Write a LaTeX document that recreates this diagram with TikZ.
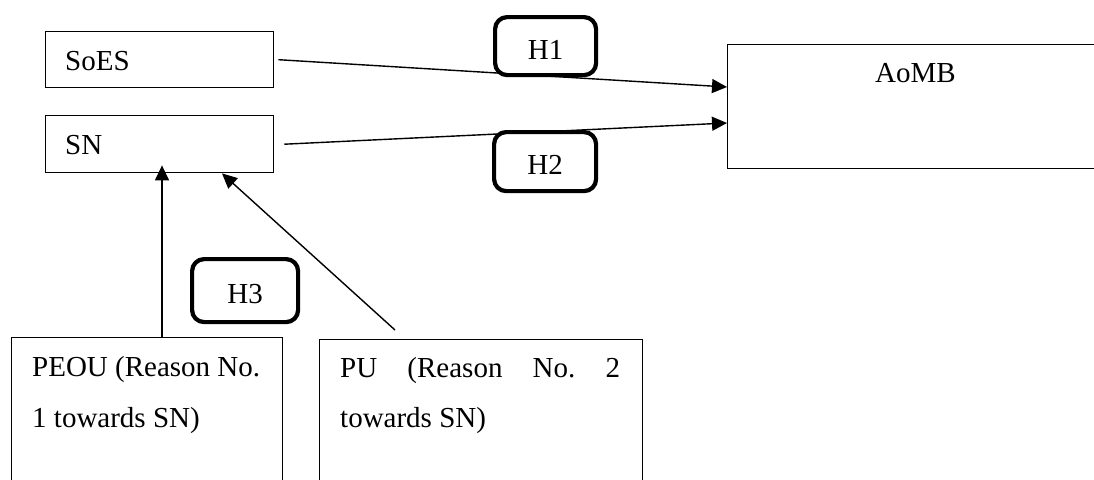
\documentclass[tikz,border=0pt]{standalone}
\usepackage{fontspec}
\setmainfont{Liberation Serif}
\usetikzlibrary{arrows.meta,calc}
\begin{document}
\frenchspacing
\begin{tikzpicture}[x=1pt,y=-1pt,
  box/.style={draw,line width=1.4pt,inner sep=0pt,anchor=north west},
  hyp/.style={draw,line width=4.2pt,rounded corners=12pt,inner sep=0pt,anchor=north west,fill=white,
    text height=26pt,text depth=0pt},
  lbl/.style={anchor=base west,inner sep=0pt},
  link/.style={line width=1.4pt,-{Triangle[length=15pt,width=14pt]}},
  font=\fontsize{29pt}{35pt}\selectfont]
\useasboundingbox (0,0) rectangle (1094,479);
\clip (0,0) rectangle (1094,479);

% construct boxes
\node[box,minimum width=228pt,minimum height=56pt] (soes) at (45,31) {};
\node[box,minimum width=228pt,minimum height=57pt] (sn) at (45,115) {};
\node[box,minimum width=400pt,minimum height=124pt] (aomb) at (727,44) {};
\node[box,minimum width=271pt,minimum height=170pt] (peou) at (11,337) {};
\node[box,minimum width=323pt,minimum height=170pt] (pu) at (319,339) {};

% box texts
\node[lbl] (soesT) at (65,70) {SoES};
\node[lbl] (snT) at (65,154) {SN};
\node[lbl] (aombT) at (875,82) {AoMB};
\node[lbl] (peouA) at (32,376) {PEOU (Reason No.};
\node[lbl] (peouB) at (32,427) {1 towards SN)};
\node[lbl] (puA) at (340,377) {\makebox[280pt][s]{PU (Reason No. 2}};
\node[lbl] (puB) at (340,427) {towards SN)};

% relationships
\draw[link] ($(soes.east)+(4,0)$) -- ($(aomb.north west)+(0,43)$);
\draw[link] ($(sn.east)+(10,0)$) -- ($(aomb.north west)+(0,79)$);
\draw[link] ($(peou.north west)+(151,0)$) -- ($(sn.south west)+(117,-8)$);
\draw[link] ($(pu.north west)+(76,-9)$) -- ($(sn.south west)+(177,0)$);

% hypothesis tags
\node[hyp,minimum width=101pt,minimum height=58pt] (h1) at (493,15) {H1};
\node[hyp,minimum width=102pt,minimum height=59pt] (h2) at (492,130) {H2};
\node[hyp,minimum width=106pt,minimum height=63pt] (h3) at (190,257) {H3};
\end{tikzpicture}
\end{document}
